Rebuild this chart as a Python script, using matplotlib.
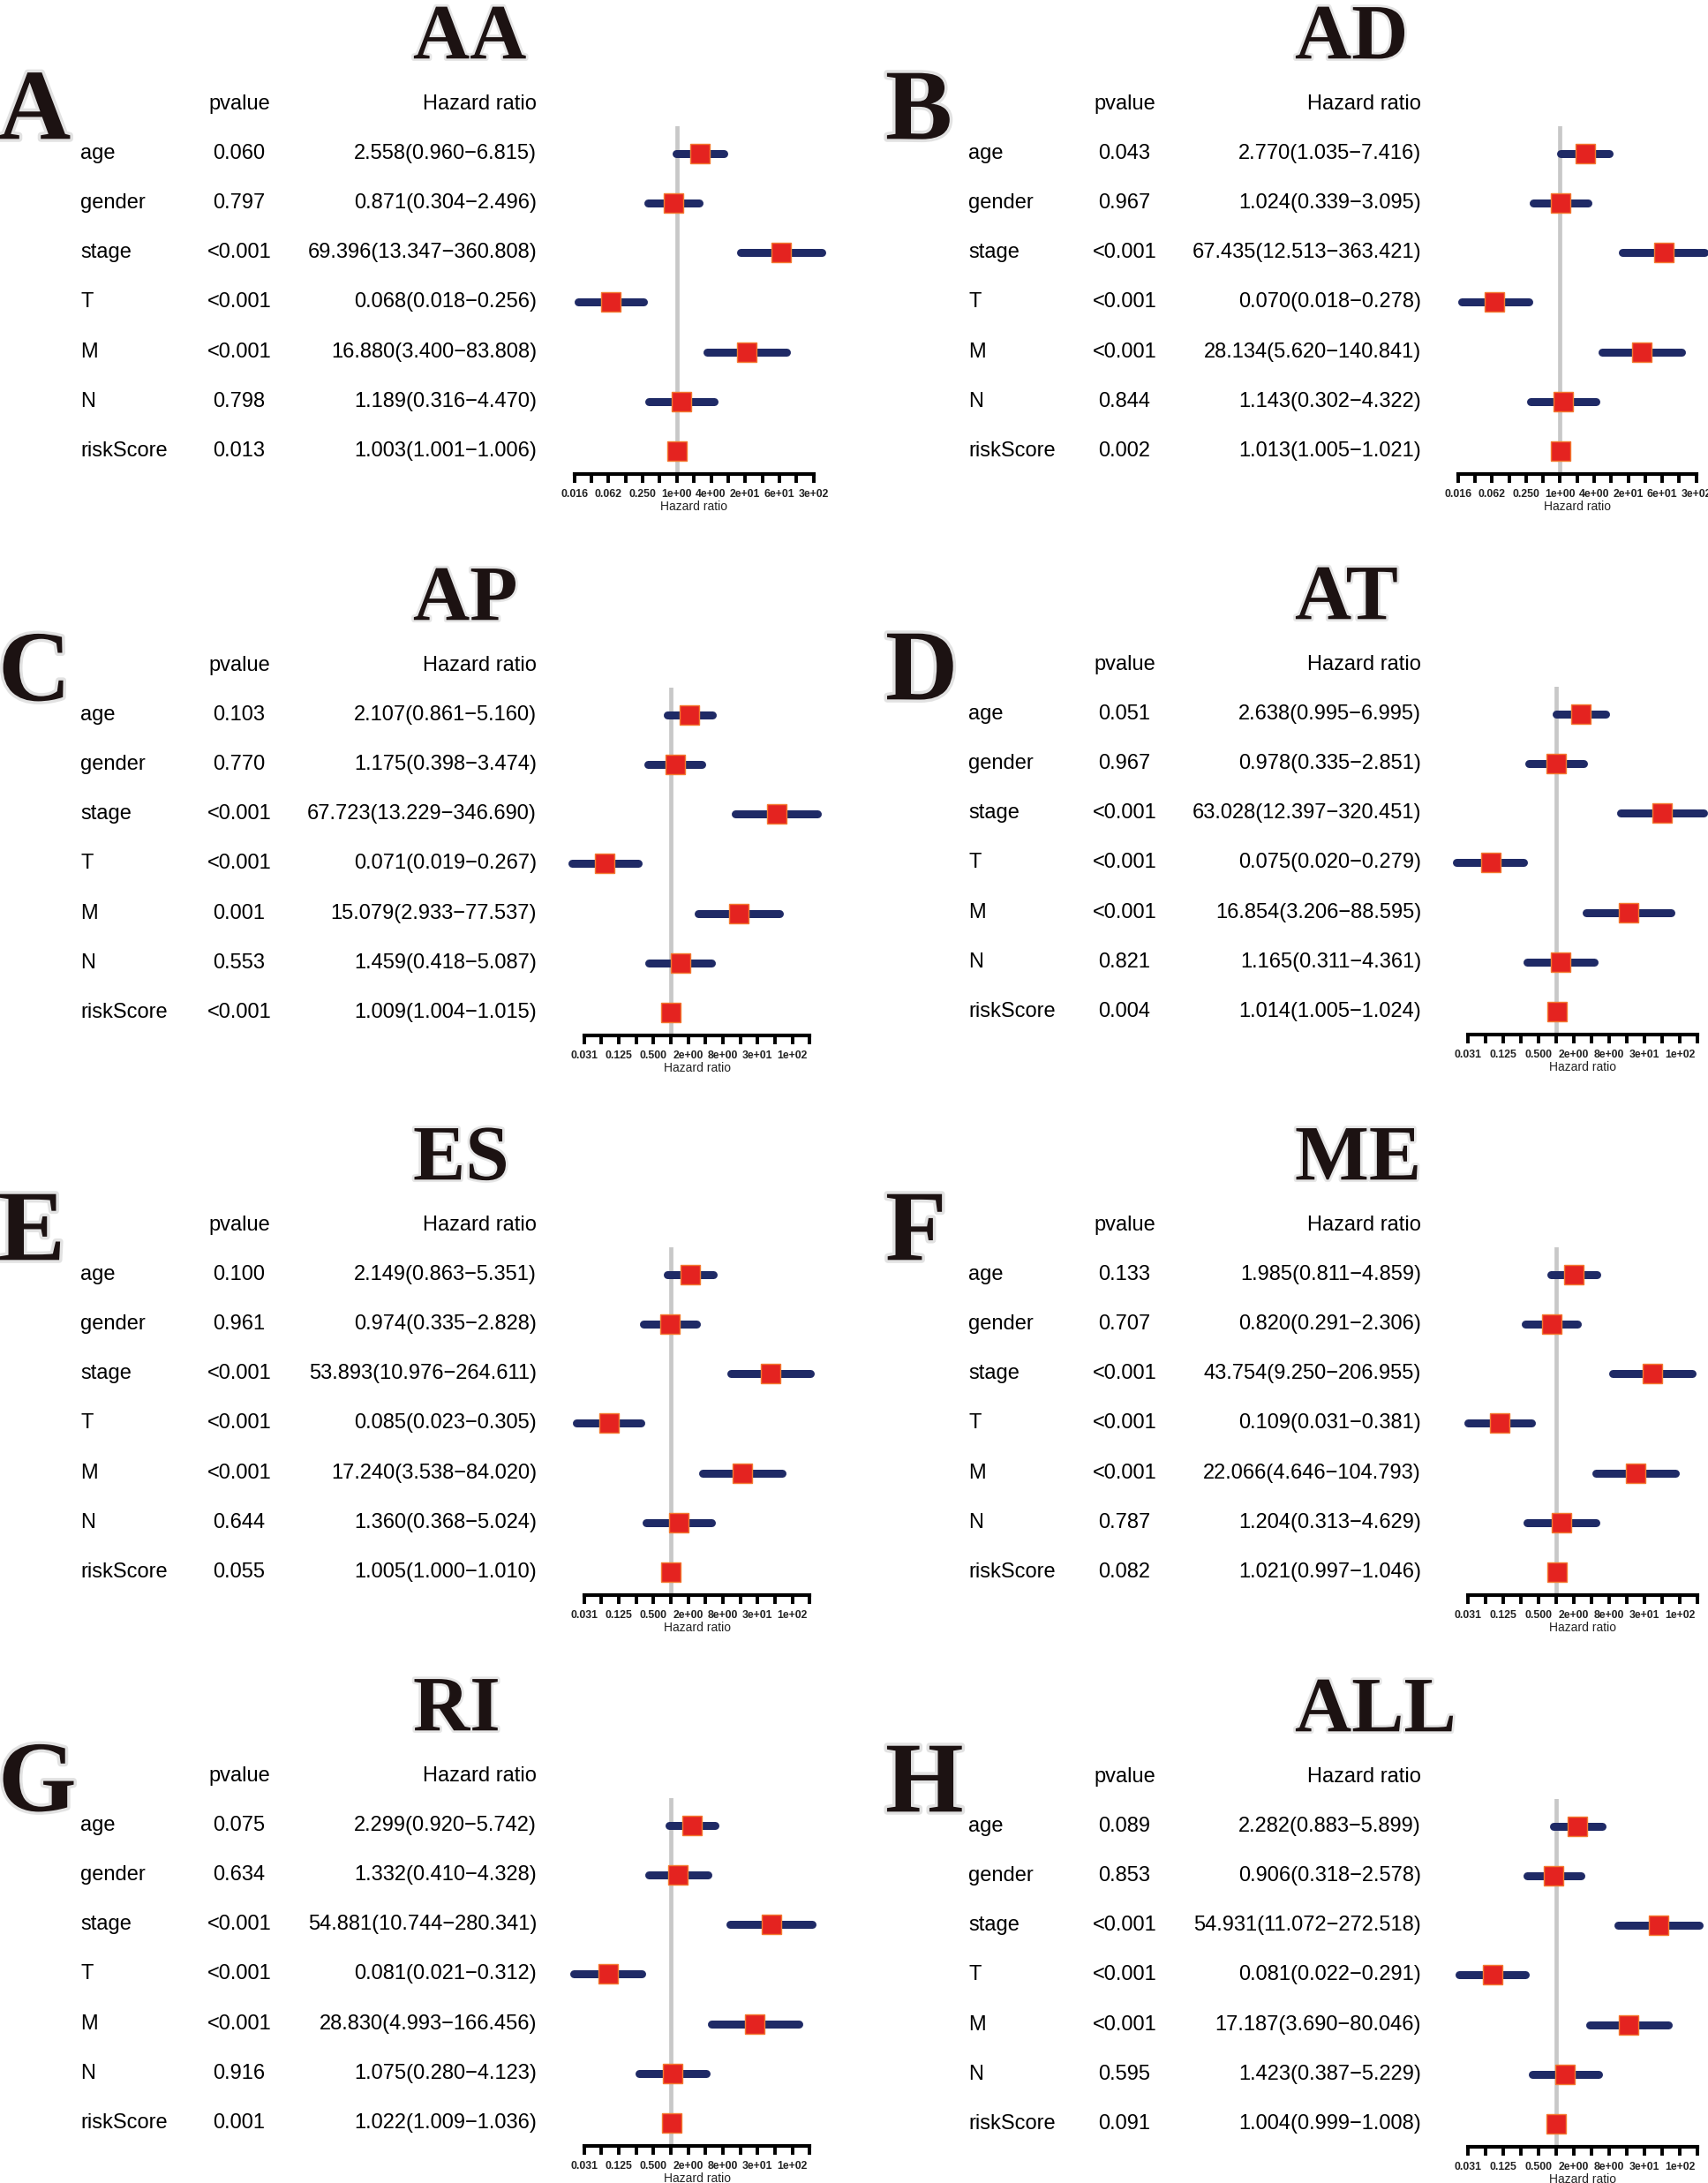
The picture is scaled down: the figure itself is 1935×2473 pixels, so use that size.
import matplotlib
matplotlib.use('Agg')
import matplotlib.pyplot as plt
import matplotlib.transforms as mtransforms
import matplotlib.patheffects as pe
from matplotlib.ticker import NullLocator

plt.rcParams['font.family'] = ['Liberation Sans', 'DejaVu Sans']

# Datos
variables = ['age', 'gender', 'stage', 'T', 'M', 'N', 'riskScore']

p_AA = ['0.060', '0.797', '<0.001', '<0.001', '<0.001', '0.798', '0.013']
hr_AA = [2.558, 0.871, 69.396, 0.068, 16.880, 1.189, 1.003]
low_AA = [0.960, 0.304, 13.347, 0.018, 3.400, 0.316, 1.001]
high_AA = [6.815, 2.496, 360.808, 0.256, 83.808, 4.470, 1.006]

p_AD = ['0.043', '0.967', '<0.001', '<0.001', '<0.001', '0.844', '0.002']
hr_AD = [2.770, 1.024, 67.435, 0.070, 28.134, 1.143, 1.013]
low_AD = [1.035, 0.339, 12.513, 0.018, 5.620, 0.302, 1.005]
high_AD = [7.416, 3.095, 363.421, 0.278, 140.841, 4.322, 1.021]

p_AP = ['0.103', '0.770', '<0.001', '<0.001', '0.001', '0.553', '<0.001']
hr_AP = [2.107, 1.175, 67.723, 0.071, 15.079, 1.459, 1.009]
low_AP = [0.861, 0.398, 13.229, 0.019, 2.933, 0.418, 1.004]
high_AP = [5.160, 3.474, 346.690, 0.267, 77.537, 5.087, 1.015]

p_AT = ['0.051', '0.967', '<0.001', '<0.001', '<0.001', '0.821', '0.004']
hr_AT = [2.638, 0.978, 63.028, 0.075, 16.854, 1.165, 1.014]
low_AT = [0.995, 0.335, 12.397, 0.020, 3.206, 0.311, 1.005]
high_AT = [6.995, 2.851, 320.451, 0.279, 88.595, 4.361, 1.024]

p_ES = ['0.100', '0.961', '<0.001', '<0.001', '<0.001', '0.644', '0.055']
hr_ES = [2.149, 0.974, 53.893, 0.085, 17.240, 1.360, 1.005]
low_ES = [0.863, 0.335, 10.976, 0.023, 3.538, 0.368, 1.000]
high_ES = [5.351, 2.828, 264.611, 0.305, 84.020, 5.024, 1.010]

p_ME = ['0.133', '0.707', '<0.001', '<0.001', '<0.001', '0.787', '0.082']
hr_ME = [1.985, 0.820, 43.754, 0.109, 22.066, 1.204, 1.021]
low_ME = [0.811, 0.291, 9.250, 0.031, 4.646, 0.313, 0.997]
high_ME = [4.859, 2.306, 206.955, 0.381, 104.793, 4.629, 1.046]

p_RI = ['0.075', '0.634', '<0.001', '<0.001', '<0.001', '0.916', '0.001']
hr_RI = [2.299, 1.332, 54.881, 0.081, 28.830, 1.075, 1.022]
low_RI = [0.920, 0.410, 10.744, 0.021, 4.993, 0.280, 1.009]
high_RI = [5.742, 4.328, 280.341, 0.312, 166.456, 4.123, 1.036]

p_ALL = ['0.089', '0.853', '<0.001', '<0.001', '<0.001', '0.595', '0.091']
hr_ALL = [2.282, 0.906, 54.931, 0.081, 17.187, 1.423, 1.004]
low_ALL = [0.883, 0.318, 11.072, 0.022, 3.690, 0.387, 0.999]
high_ALL = [5.899, 2.578, 272.518, 0.291, 80.046, 5.229, 1.008]

W, H = 1935, 2473
fig = plt.figure(figsize=(W / 100, H / 100), dpi=100)

ROW = 56.2        # separacion entre filas (px)
AX_H = 394        # alto del panel del forest (px)

# columnas (px): nombre, pvalue, HR, letra, titulo
col_izq = dict(name=91, p=271, hr=608, letter=-2, title=468)
col_der = dict(name=1097, p=1274, hr=1610, letter=1003, title=1467)


def fmt_tick(v):
    if v < 1:
        return f'{v:.3f}'
    return f'{v:.0e}'


def forest(letra, titulo, pv, hr, low, high, x0, x1, lo, hi, axis_y, col):
    ax = fig.add_axes([x0 / W, 1 - axis_y / H, (x1 - x0) / W, AX_H / H])
    ax.set_xscale('log', base=2)
    ax.set_xlim(2.0 ** lo, 2.0 ** hi)
    y_bot = 6 + 26 / ROW
    ax.set_ylim(y_bot, y_bot - AX_H / ROW)
    ax.patch.set_alpha(0)

    ax.axvline(1, color='#c8c8c8', lw=3.4, zorder=0)
    filas = list(range(len(variables)))
    for i in filas:
        ax.plot([low[i], high[i]], [i, i], color='#1f2a66', lw=6.5,
                solid_capstyle='round', clip_on=False, zorder=2)
    ax.plot(hr, filas, 's', ms=15.5, mfc='#e42320', mec='#f47a30', mew=1.0,
            clip_on=False, zorder=3)

    for s in ['top', 'left', 'right']:
        ax.spines[s].set_visible(False)
    ax.spines['bottom'].set_linewidth(3)
    ax.set_yticks([])
    ticks = [2.0 ** k for k in range(lo, hi + 1)]
    ax.set_xticks(ticks)
    ax.set_xticklabels([fmt_tick(t) if (k - lo) % 2 == 0 else ''
                        for k, t in zip(range(lo, hi + 1), ticks)])
    ax.xaxis.set_minor_locator(NullLocator())
    ax.tick_params(axis='x', length=7, width=2.8, pad=5, labelsize=8.8,
                   labelcolor='#222222')
    for lab in ax.get_xticklabels():
        lab.set_fontweight('bold')
    ax.set_xlabel('Hazard ratio', fontsize=10, labelpad=1, color='#222222')

    tr = mtransforms.blended_transform_factory(fig.transFigure, ax.transData)
    fx = lambda px: px / W
    header = -55.5 / ROW
    fs = 17
    ax.text(fx(col['p']), header, 'pvalue', transform=tr, ha='center', va='center', fontsize=fs)
    ax.text(fx(col['hr']), header, 'Hazard ratio', transform=tr, ha='right', va='center', fontsize=fs)
    for i, v in enumerate(variables):
        ax.text(fx(col['name']), i, v, transform=tr, ha='left', va='center', fontsize=fs)
        ax.text(fx(col['p']), i, pv[i], transform=tr, ha='center', va='center', fontsize=fs)
        txt = f'{hr[i]:.3f}({low[i]:.3f}\u2212{high[i]:.3f})'
        ax.text(fx(col['hr']), i, txt, transform=tr, ha='right', va='center', fontsize=fs)

    sombra = [pe.Stroke(linewidth=5, foreground='#e2e2e2'), pe.Normal()]
    ax.text(fx(col['letter']), header + 39 / ROW, letra, transform=tr, ha='left',
            va='baseline', fontsize=82, fontweight='bold', family='Liberation Serif',
            color='#1c1212', path_effects=sombra)
    ax.text(fx(col['title']), header - 52 / ROW, titulo, transform=tr, ha='left',
            va='baseline', fontsize=64, fontweight='bold', family='Liberation Serif',
            color='#1c1212', path_effects=[pe.Stroke(linewidth=4, foreground='#e6e6e6'), pe.Normal()])


forest('A', 'AA', p_AA, hr_AA, low_AA, high_AA, 650.7, 921.7, -6, 8, 537, col_izq)
forest('B', 'AD', p_AD, hr_AD, low_AD, high_AD, 1651.7, 1921.7, -6, 8, 537, col_der)
forest('C', 'AP', p_AP, hr_AP, low_AP, high_AP, 661.7, 917.3, -5, 8, 1173, col_izq)
forest('D', 'AT', p_AT, hr_AT, low_AT, high_AT, 1663.3, 1923.3, -5, 8, 1172, col_der)
forest('E', 'ES', p_ES, hr_ES, low_ES, high_ES, 661.7, 917.3, -5, 8, 1807, col_izq)
forest('F', 'ME', p_ME, hr_ME, low_ME, high_ME, 1663.3, 1923.3, -5, 8, 1807, col_der)
forest('G', 'RI', p_RI, hr_RI, low_RI, high_RI, 661.7, 917.3, -5, 8, 2431, col_izq)
forest('H', 'ALL', p_ALL, hr_ALL, low_ALL, high_ALL, 1663.3, 1923.3, -5, 8, 2432, col_der)

fig.savefig('out.png', dpi=100, facecolor='white')
